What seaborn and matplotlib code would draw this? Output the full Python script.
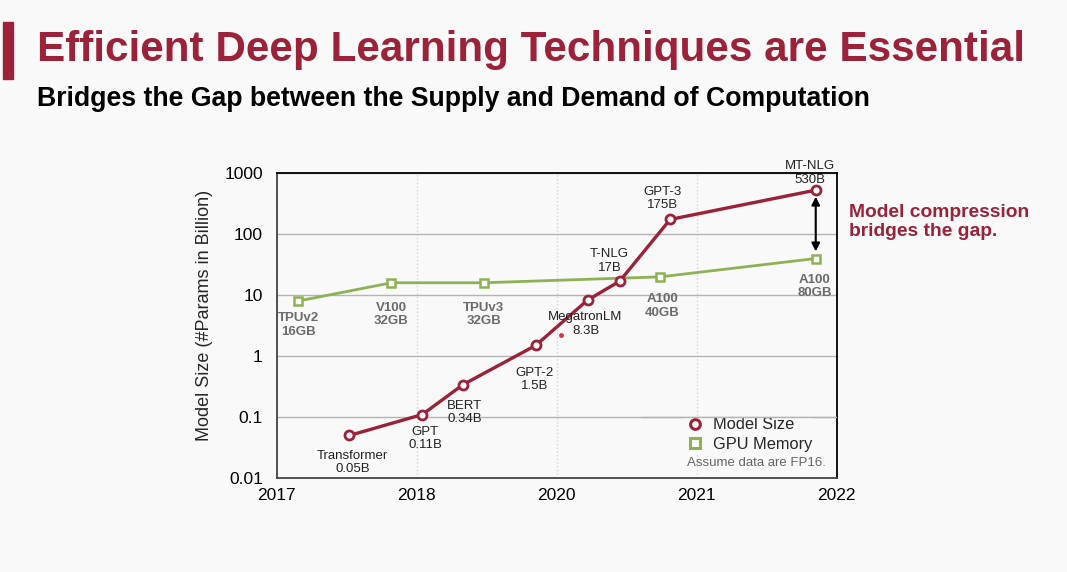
import matplotlib.pyplot as plt
from matplotlib.lines import Line2D
from matplotlib.patches import Rectangle
import pandas as pd
import seaborn as sns

# posições no eixo x (0 = 2017 ... 4 = 2022), rótulos como no slide original
x_ticks = [0, 1, 2, 3, 4]
x_labels = ['2017', '2018', '2020', '2021', '2022']

model_names = ['Transformer\n0.05B', 'GPT\n0.11B', 'BERT\n0.34B', 'GPT-2\n1.5B',
               'MegatronLM\n8.3B', 'T-NLG\n17B', 'GPT-3\n175B', 'MT-NLG\n530B']
model_pos = [0.52, 1.04, 1.33, 1.85, 2.22, 2.45, 2.81, 3.85]
model_size = [0.05, 0.11, 0.34, 1.5, 8.3, 17, 175, 530]

gpu_names = ['TPUv2\n16GB', 'V100\n32GB', 'TPUv3\n32GB', 'A100\n40GB', 'A100\n80GB']
gpu_pos = [0.15, 0.82, 1.48, 2.74, 3.85]
gpu_mem = [8, 16, 16, 20, 40]

# ponto vermelho solto perto do MegatronLM
stray_pos = [2.03]
stray_val = [2.2]

df_model = pd.DataFrame({'pos': model_pos, 'size': model_size})
df_gpu = pd.DataFrame({'pos': gpu_pos, 'mem': gpu_mem})

red = '#9b2239'
green = '#8db255'
bg = '#f9f9f9'
grid_c = '#b4b4b4'

sns.set_style('white')
plt.rcParams['font.family'] = ['Liberation Sans', 'DejaVu Sans']

fig = plt.figure(figsize=(10.67, 5.72), dpi=100, facecolor=bg)
ax = fig.add_axes([0.2593, 0.1643, 0.5249, 0.5327])
ax.set_facecolor(bg)

sns.lineplot(x='pos', y='mem', data=df_gpu, ax=ax, color=green, lw=2.0,
             marker='s', ms=6, mfc='white', mec=green, mew=1.8, zorder=3)
sns.lineplot(x='pos', y='size', data=df_model, ax=ax, color=red, lw=2.4,
             marker='o', ms=6.5, mfc='white', mec=red, mew=2.0, zorder=4)
ax.scatter(stray_pos, stray_val, s=6, color='#e03040', zorder=4)

ax.set_yscale('log')
ax.set_ylim(0.01, 1000)
ax.set_xlim(0, 4)
ax.set_yticks([0.01, 0.1, 1, 10, 100, 1000])
ax.set_yticklabels(['0.01', '0.1', '1', '10', '100', '1000'])
ax.minorticks_off()
ax.set_xticks(x_ticks)
ax.set_xticklabels(x_labels)
ax.tick_params(axis='y', length=0, labelsize=12.5, pad=10, colors='black')
ax.tick_params(axis='x', length=0, labelsize=12.5, pad=7, colors='black')
ax.set_xlabel('')
ax.set_ylabel('Model Size (#Params in Billion)', fontsize=13, labelpad=8)
ax.yaxis.label.set_y(0.533)

ax.grid(axis='y', color=grid_c, lw=1.0, ls='-')
ax.grid(axis='x', color='#d4d4d4', lw=1.0, ls=':')
for side in ['left', 'bottom']:
    ax.spines[side].set_color('#444444')
for side in ['top', 'right']:
    ax.spines[side].set_color('black')
for s in ax.spines.values():
    s.set_linewidth(1.3)

# rótulos dos modelos (deslocamentos em pixels)
model_off = [(3, -27), (3, -24), (2, -28), (-1, -34), (-2, -24), (-10, 20), (-8, 21), (-6, 17)]
for n, px, py, off in zip(model_names, model_pos, model_size, model_off):
    ax.annotate(n, (px, py), xytext=off, textcoords='offset pixels', ha='center', va='center',
                fontsize=9.5, color='#222222', linespacing=1.15, zorder=5)

gpu_off = [(1, -24), (0, -32), (0, -32), (2, -29), (-1, -28)]
for n, px, py, off in zip(gpu_names, gpu_pos, gpu_mem, gpu_off):
    ax.annotate(n, (px, py), xytext=off, textcoords='offset pixels', ha='center', va='center',
                fontsize=9.5, color='#6b6b6b', fontweight='bold', linespacing=1.15, zorder=5)

# seta dupla entre MT-NLG e A100 80GB
ax.annotate('', xy=(model_pos[-1], 47), xytext=(model_pos[-1], 460),
            arrowprops=dict(arrowstyle='<|-|>', color='black', lw=1.5, mutation_scale=12), zorder=5)

handles = [Line2D([], [], ls='none', marker='o', ms=7, mfc='white', mec=red, mew=2.2),
           Line2D([], [], ls='none', marker='s', ms=7, mfc='white', mec=green, mew=2.2)]
leg = ax.legend(handles, ['Model Size', 'GPU Memory'], loc='lower right', bbox_to_anchor=(0.962, 0.076),
                fontsize=11.8, frameon=True, facecolor=bg, edgecolor=bg, framealpha=1,
                handletextpad=0.5, borderpad=0.0, labelspacing=0.25, borderaxespad=0.2,
                handlelength=1.2)
leg.set_zorder(6)
# a linha de grade 0.1 continua visível por cima da caixa da legenda
ax.axhline(0.1, xmin=0.65, xmax=1.0, color=grid_c, lw=1.0, zorder=6.5)
ax.text(0.98, 0.05, 'Assume data are FP16.', transform=ax.transAxes, ha='right', va='center',
        fontsize=9.5, color='#666666', zorder=7)

fig.text(849 / 1067, 1 - 222 / 572, 'Model compression\nbridges the gap.', ha='left', va='center',
         fontsize=13.9, fontweight='bold', color=red, linespacing=1.15)

# título e subtítulo
fig.patches.append(Rectangle((3 / 1067, 1 - 79 / 572), 10 / 1067, 57 / 572,
                             transform=fig.transFigure, color=red))
fig.text(37 / 1067, 1 - 50 / 572, 'Efficient Deep Learning Techniques are Essential',
         fontsize=30.4, fontweight='bold', color=red, ha='left', va='center')
fig.text(37 / 1067, 1 - 99 / 572, 'Bridges the Gap between the Supply and Demand of Computation',
         fontsize=19.2, fontweight='bold', color='black', ha='left', va='center')

fig.savefig('out.png', dpi=100, facecolor=bg)
